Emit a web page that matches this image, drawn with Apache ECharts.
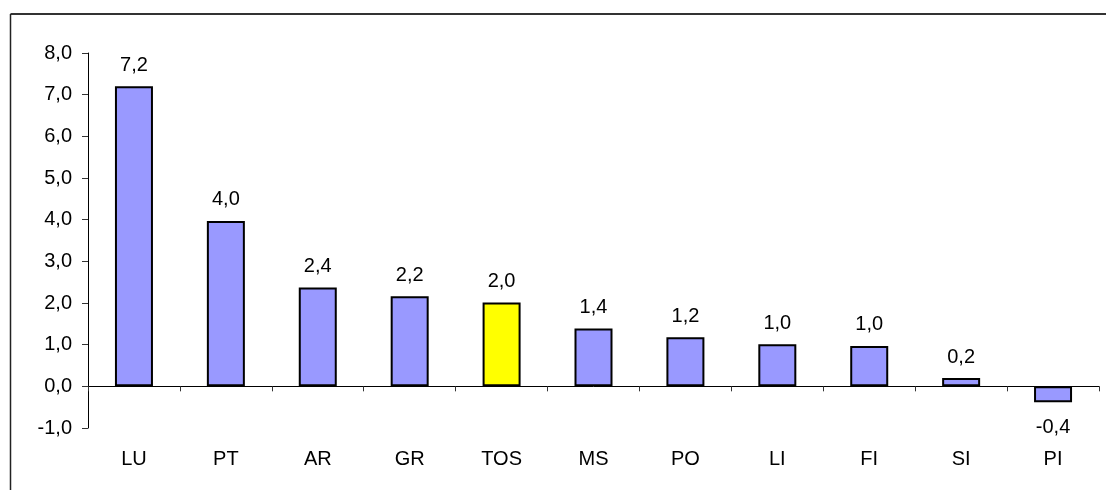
<!DOCTYPE html>
<html>
<head>
<meta charset="utf-8">
<script src="https://cdn.jsdelivr.net/npm/echarts@6/dist/echarts.min.js"></script>
<style>
html,body{margin:0;padding:0;background:#fff;}
#chart{width:1106px;height:490px;}
</style>
</head>
<body>
<div id="chart"></div>
<script>
var categories = ['LU','PT','AR','GR','TOS','MS','PO','LI','FI','SI','PI'];
var values = [7.2, 3.97, 2.37, 2.16, 2.01, 1.39, 1.18, 1.01, 0.97, 0.2, -0.38];
var highlight = ['TOS'];
var yMin = -1, yMax = 8, yStep = 1;

var FONT = '"Liberation Sans", Arial, sans-serif';
var FS = 20;
function fmt(v){ return v.toFixed(1).replace('.', ','); }

var chart = echarts.init(document.getElementById('chart'), null, {renderer:'canvas'});
var data = values.map(function(v, i){
  var isHi = highlight.indexOf(categories[i]) >= 0;
  return {
    value: v,
    itemStyle: {color: isHi ? '#FFFF00' : '#9999FF'},
    label: v < 0 ? {position:'bottom', distance: 15} : {position:'top', distance: 11}
  };
});

chart.setOption({
  animation: false,
  backgroundColor: '#fff',
  grid: {left: 88, right: 7, top: 53, bottom: 62, containLabel: false},
  graphic: [
    {type:'line', shape:{x1:10.5, y1:14, x2:1106, y2:14}, style:{stroke:'#333', lineWidth:2}, z:100},
    {type:'line', shape:{x1:10.5, y1:14, x2:10.5, y2:490}, style:{stroke:'#222', lineWidth:1.5}, z:100}
  ],
  xAxis: [
    {
      type:'category', data: categories, position:'bottom',
      axisLine:{onZero:true, lineStyle:{color:'#000', width:1}},
      axisTick:{show:true, inside:false, length:5, lineStyle:{color:'#333'}},
      axisLabel:{show:false}
    },
    {
      type:'category', data: categories, position:'bottom',
      axisLine:{show:false, onZero:false},
      axisTick:{show:false},
      axisLabel:{show:true, margin:21, color:'#000', fontSize:FS, fontFamily:FONT}
    }
  ],
  yAxis: {
    type:'value', min:yMin, max:yMax, interval:yStep,
    axisLine:{show:true, lineStyle:{color:'#000', width:1}},
    axisTick:{show:true, inside:false, length:6, lineStyle:{color:'#333'}},
    splitLine:{show:false},
    axisLabel:{margin:16, color:'#000', fontSize:FS, fontFamily:FONT, formatter:function(v){return fmt(v);}}
  },
  series: [{
    type:'bar', xAxisIndex:0, data: data, barWidth:38,
    itemStyle:{borderColor:'#000', borderWidth:2},
    label:{show:true, color:'#000', fontSize:FS, fontFamily:FONT, formatter:function(p){return fmt(p.value);}}
  }]
});
</script>
</body>
</html>
